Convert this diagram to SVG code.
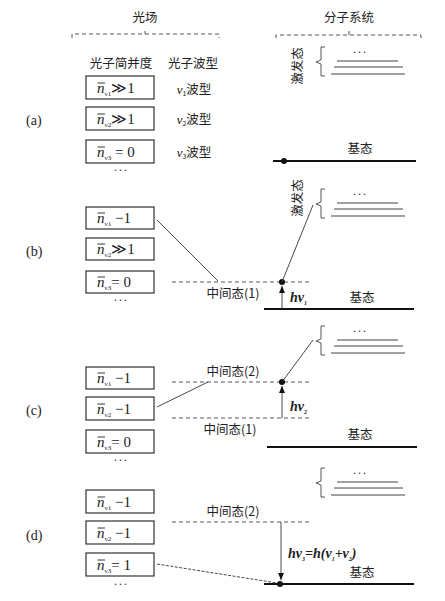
<svg xmlns="http://www.w3.org/2000/svg" width="445" height="601" viewBox="0 0 445 601">
<style>
.cjk{font-family:"Noto Sans CJK SC","Noto Sans",sans-serif;font-size:12.5px;fill:#222}
.ser{font-family:"Liberation Serif",serif;font-size:14px;fill:#222}
.box{fill:#fff;stroke:#333;stroke-width:1.2}
.bt{font-family:"Liberation Serif",serif;font-size:15px;fill:#222}
.nb{font-style:italic}
.ob{stroke:#222;stroke-width:0.9}
.sub{font-size:7px}
.gnd{stroke:#111;stroke-width:2.2}
.exc{stroke:#444;stroke-width:1}
.dash{stroke:#444;stroke-width:0.9;stroke-dasharray:4,3}
.conn{stroke:#333;stroke-width:0.9;fill:none}
.brk{stroke:#444;stroke-width:0.9;fill:none}
.dots{font-family:"Liberation Serif",serif;font-size:12px;fill:#333;letter-spacing:1px}
.nu{font-family:"Liberation Serif",serif;font-size:13px;font-style:italic}
</style>
<defs>
<marker id="arr" viewBox="0 0 7 6" refX="7" refY="3" markerWidth="7" markerHeight="6" orient="auto" markerUnits="userSpaceOnUse">
<path d="M0,0 L7,3 L0,6 Z" fill="#111"/>
</marker>
<g id="exc">
<path class="brk" d="M325,0 L321,0 L321,13 L316,15 L321,17 L321,29 L325,29"/>
<text class="dots" x="360" y="9" text-anchor="middle">···</text>
<line class="exc" x1="337" y1="14" x2="398" y2="14"/>
<line class="exc" x1="334" y1="20" x2="403" y2="20"/>
<line class="exc" x1="331" y1="27" x2="405" y2="27"/>
</g>
</defs>

<g id="headers">
<text class="cjk" x="145" y="22" text-anchor="middle">光场</text>
<path class="dash" d="M72,38 L72,34 L219,34 L219,38 M145,34 L145,31" fill="none"/>
<text class="cjk" x="349" y="22" text-anchor="middle">分子系统</text>
<path class="dash" d="M276,38 L276,35 L421,35 L421,39 M349,35 L349,31" fill="none"/>
<text class="cjk" x="121" y="68" text-anchor="middle">光子简并度</text>
<text class="cjk" x="193" y="68" text-anchor="middle">光子波型</text>
</g>

<!-- (a) -->
<g id="label-a"><text class="ser" x="26" y="125">(a)</text></g>
<g id="a-n1"><rect class="box" x="86" y="76" width="68" height="23"/>
<line class="ob" x1="97.5" y1="83" x2="105" y2="83"/>
<text class="bt" x="97" y="93"><tspan class="nb">n</tspan><tspan class="sub" dy="3">ν1</tspan><tspan dy="-3">≫1</tspan></text></g>
<g id="a-n2"><rect class="box" x="86" y="107" width="68" height="23"/>
<line class="ob" x1="97.5" y1="114" x2="105" y2="114"/>
<text class="bt" x="97" y="124"><tspan class="nb">n</tspan><tspan class="sub" dy="3">ν2</tspan><tspan dy="-3">≫1</tspan></text></g>
<g id="a-n3"><rect class="box" x="86" y="140" width="68" height="23"/>
<line class="ob" x1="97.5" y1="147" x2="105" y2="147"/>
<text class="bt" x="97" y="157"><tspan class="nb">n</tspan><tspan class="sub" dy="3">ν3</tspan><tspan dy="-3"> = 0</tspan></text></g>
<g id="a-m1"><text class="cjk" x="194" y="94" text-anchor="middle"><tspan class="nu">ν</tspan><tspan font-size="7" dy="2">1</tspan><tspan dy="-2">波型</tspan></text></g>
<g id="a-m2"><text class="cjk" x="194" y="124" text-anchor="middle"><tspan class="nu">ν</tspan><tspan font-size="7" dy="2">2</tspan><tspan dy="-2">波型</tspan></text></g>
<g id="a-m3"><text class="cjk" x="194" y="157" text-anchor="middle"><tspan class="nu">ν</tspan><tspan font-size="7" dy="2">3</tspan><tspan dy="-2">波型</tspan></text></g>
<g id="a-dots"><text class="dots" x="121" y="174" text-anchor="middle">···</text></g>
<g id="a-exc"><use href="#exc" y="47"/>
<text class="cjk" transform="translate(302,66) rotate(-90)" text-anchor="middle">激发态</text></g>
<g id="a-ground"><line class="gnd" x1="273" y1="161" x2="416" y2="161"/>
<circle cx="284" cy="161" r="3" fill="#111"/>
<text class="cjk" x="360" y="153" text-anchor="middle">基态</text></g>

<!-- (b) -->
<g id="label-b"><text class="ser" x="26" y="256">(b)</text></g>
<g id="b-n1"><rect class="box" x="86" y="207" width="68" height="22"/>
<line class="ob" x1="97.5" y1="213" x2="105" y2="213"/>
<text class="bt" x="97" y="223"><tspan class="nb">n</tspan><tspan class="sub" dy="3">ν1</tspan><tspan dy="-3"> −1</tspan></text></g>
<g id="b-n2"><rect class="box" x="86" y="238" width="68" height="22"/>
<line class="ob" x1="97.5" y1="244" x2="105" y2="244"/>
<text class="bt" x="97" y="254"><tspan class="nb">n</tspan><tspan class="sub" dy="3">ν2</tspan><tspan dy="-3">≫1</tspan></text></g>
<g id="b-n3"><rect class="box" x="86" y="271" width="68" height="22"/>
<line class="ob" x1="97.5" y1="277" x2="105" y2="277"/>
<text class="bt" x="97" y="287"><tspan class="nb">n</tspan><tspan class="sub" dy="3">ν3</tspan><tspan dy="-3">= 0</tspan></text></g>
<g id="b-dots"><text class="dots" x="121" y="304" text-anchor="middle">···</text></g>
<g id="b-mid1"><line class="dash" x1="172" y1="282" x2="310" y2="282"/>
<text class="cjk" x="233" y="298" text-anchor="middle">中间态(1)</text>
<circle cx="282" cy="282" r="3" fill="#111"/></g>
<g id="b-exc"><use href="#exc" y="189"/>
<text class="cjk" transform="translate(302,198) rotate(-90)" text-anchor="middle">激发态</text></g>
<g id="b-ground"><line class="gnd" x1="264" y1="309" x2="414" y2="309"/>
<text class="cjk" x="362" y="302" text-anchor="middle">基态</text>
<text class="ser" x="290" y="302" font-style="italic" font-weight="bold" font-size="13">hν<tspan font-size="6" dy="3">1</tspan></text></g>

<!-- (c) -->
<g id="label-c"><text class="ser" x="26" y="415">(c)</text></g>
<g id="c-n1"><rect class="box" x="86" y="367" width="68" height="22"/>
<line class="ob" x1="97.5" y1="373" x2="105" y2="373"/>
<text class="bt" x="97" y="383"><tspan class="nb">n</tspan><tspan class="sub" dy="3">ν1</tspan><tspan dy="-3"> −1</tspan></text></g>
<g id="c-n2"><rect class="box" x="86" y="397" width="68" height="23"/>
<line class="ob" x1="97.5" y1="404" x2="105" y2="404"/>
<text class="bt" x="97" y="414"><tspan class="nb">n</tspan><tspan class="sub" dy="3">ν2</tspan><tspan dy="-3"> −1</tspan></text></g>
<g id="c-n3"><rect class="box" x="86" y="430" width="68" height="23"/>
<line class="ob" x1="97.5" y1="437" x2="105" y2="437"/>
<text class="bt" x="97" y="447"><tspan class="nb">n</tspan><tspan class="sub" dy="3">ν3</tspan><tspan dy="-3">= 0</tspan></text></g>
<g id="c-dots"><text class="dots" x="121" y="464" text-anchor="middle">···</text></g>
<g id="c-mid2"><line class="dash" x1="172" y1="382" x2="310" y2="382"/>
<text class="cjk" x="233" y="376" text-anchor="middle">中间态(2)</text>
<circle cx="282" cy="382" r="3" fill="#111"/></g>
<g id="c-mid1"><line class="dash" x1="172" y1="418" x2="310" y2="418"/>
<text class="cjk" x="230" y="434" text-anchor="middle">中间态(1)</text>
<text class="ser" x="290" y="411" font-style="italic" font-weight="bold" font-size="13">hν<tspan font-size="6" dy="3">2</tspan></text></g>
<g id="c-exc"><use href="#exc" y="326"/></g>
<g id="c-ground"><line class="gnd" x1="267" y1="447" x2="417" y2="447"/>
<text class="cjk" x="360" y="439" text-anchor="middle">基态</text></g>

<!-- (d) -->
<g id="label-d"><text class="ser" x="26" y="540">(d)</text></g>
<g id="d-n1"><rect class="box" x="86" y="490" width="68" height="23"/>
<line class="ob" x1="97.5" y1="497" x2="105" y2="497"/>
<text class="bt" x="97" y="507"><tspan class="nb">n</tspan><tspan class="sub" dy="3">ν1</tspan><tspan dy="-3"> −1</tspan></text></g>
<g id="d-n2"><rect class="box" x="86" y="521" width="68" height="23"/>
<line class="ob" x1="97.5" y1="528" x2="105" y2="528"/>
<text class="bt" x="97" y="538"><tspan class="nb">n</tspan><tspan class="sub" dy="3">ν2</tspan><tspan dy="-3"> −1</tspan></text></g>
<g id="d-n3"><rect class="box" x="86" y="553" width="68" height="23"/>
<line class="ob" x1="97.5" y1="560" x2="105" y2="560"/>
<text class="bt" x="97" y="570"><tspan class="nb">n</tspan><tspan class="sub" dy="3">ν3</tspan><tspan dy="-3">= 1</tspan></text></g>
<g id="d-dots"><text class="dots" x="121" y="588" text-anchor="middle">···</text></g>
<g id="d-mid2"><line class="dash" x1="172" y1="522" x2="310" y2="522"/>
<text class="cjk" x="233" y="516" text-anchor="middle">中间态(2)</text></g>
<g id="d-exc"><use href="#exc" y="468"/></g>
<g id="d-ground"><line class="gnd" x1="264" y1="584" x2="414" y2="584"/>
<circle cx="280" cy="584" r="3" fill="#111"/>
<text class="cjk" x="362" y="577" text-anchor="middle">基态</text>
<text class="ser" x="288" y="558" font-style="italic" font-weight="bold" font-size="13">hν<tspan font-size="6" dy="3">3</tspan><tspan dy="-3">=h(ν</tspan><tspan font-size="6" dy="3">1</tspan><tspan dy="-3">+ν</tspan><tspan font-size="6" dy="3">2</tspan><tspan dy="-3">)</tspan></text></g>

<g id="connectors">
<line class="conn" x1="157" y1="220" x2="218" y2="281"/>
<line class="conn" x1="282" y1="282" x2="313" y2="205"/>
<line class="conn" x1="282" y1="309" x2="282" y2="286" marker-end="url(#arr)"/>
<line class="conn" x1="157" y1="407" x2="208" y2="382"/>
<line class="conn" x1="282" y1="382" x2="313" y2="340"/>
<line class="conn" x1="282" y1="418" x2="282" y2="386" marker-end="url(#arr)"/>
<line class="conn" x1="157" y1="564" x2="277" y2="583" stroke-dasharray="3,1.5"/>
<line class="conn" x1="281" y1="522" x2="281" y2="580" marker-end="url(#arr)"/>
</g>
</svg>
